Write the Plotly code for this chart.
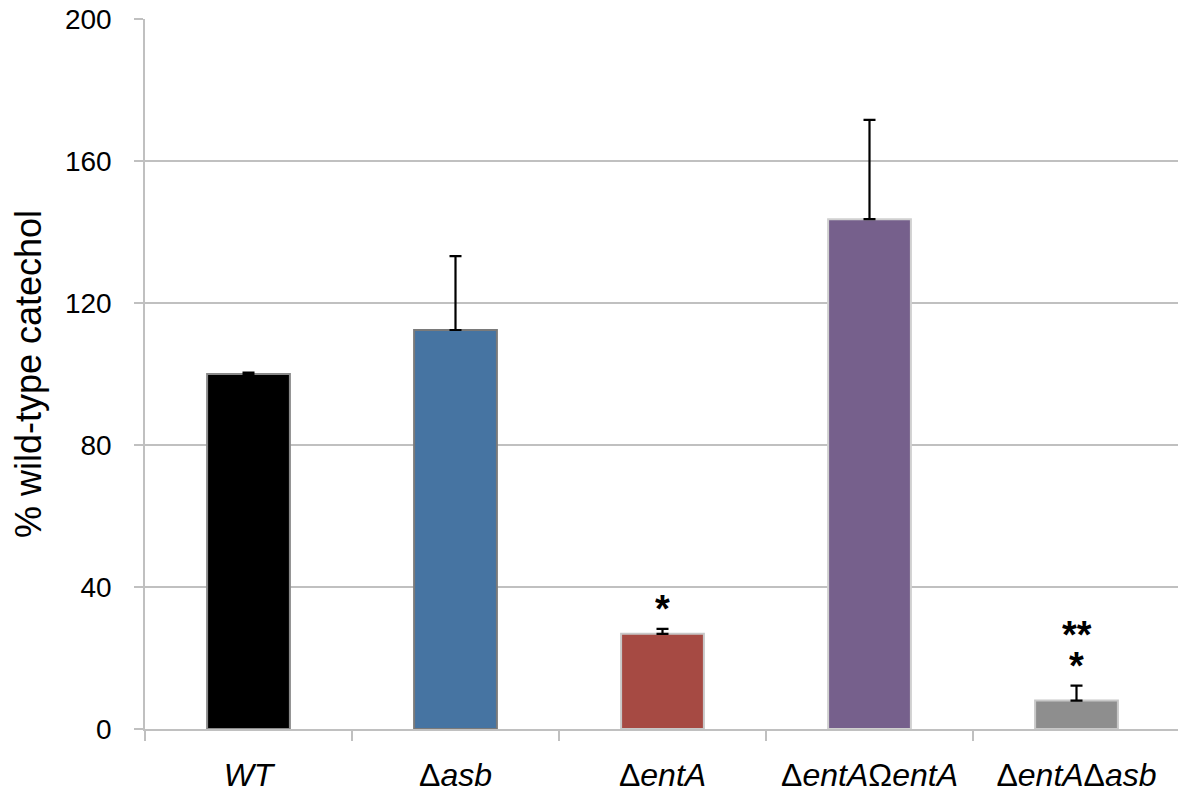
import plotly.graph_objects as go

strains = ["<i>WT</i>", "Δ<i>asb</i>", "Δ<i>entA</i>",
           "Δ<i>entA</i>Ω<i>entA</i>", "Δ<i>entA</i>Δ<i>asb</i>"]
catechol_pct = [100.0, 112.4, 26.8, 143.6, 8.0]
err_up = [0.4, 20.8, 1.4, 28.0, 4.2]
# significance marks, lower and upper row
sig_lower = ["", "", "*", "", "*"]
sig_upper = ["", "", "", "", "**"]

bar_colors = ["#000000", "#4674a2", "#a64a43", "#76608c", "#8e8e8e"]
edge_colors = ["#8a8a8a", "#7a7a7a", "#c8c8c8", "#d0d0d0", "#c8c8c8"]

FONT = "Arial, Liberation Sans, Helvetica, sans-serif"
GRID = "#c0c0c0"

fig = go.Figure()
fig.add_bar(x=strains, y=catechol_pct, width=0.4,
            marker=dict(color=bar_colors, line=dict(color=edge_colors, width=2)),
            error_y=dict(type="data", symmetric=False, array=err_up,
                         arrayminus=[0] * len(err_up),
                         color="black", thickness=2.2, width=6))

star_font = dict(size=38, family=FONT, color="black", weight="bold")
for s, v, e, lo, up in zip(strains, catechol_pct, err_up, sig_lower, sig_upper):
    if lo:
        fig.add_annotation(x=s, y=v + e, text=lo, showarrow=False, yanchor="middle",
                           height=24, valign="top", yshift=29, font=star_font)
    if up:
        fig.add_annotation(x=s, y=v + e, text=up, showarrow=False, yanchor="middle",
                           height=24, valign="top", yshift=60, font=star_font)

fig.update_layout(
    width=1186, height=800,
    margin=dict(l=137, r=14, t=11, b=79),
    plot_bgcolor="white", paper_bgcolor="white",
    showlegend=False,
    font=dict(family=FONT, color="black"),
    xaxis=dict(type="category", tickson="boundaries", ticks="outside", ticklen=10,
               tickcolor=GRID, tickwidth=1.5, showline=True, linecolor=GRID, linewidth=1.5,
               showgrid=False, tickfont=dict(size=32, family=FONT),
               ticklabelstandoff=17, automargin=False),
    yaxis=dict(range=[0, 200], tickvals=[0, 40, 80, 120, 160, 200],
               showgrid=True, gridcolor=GRID, gridwidth=1.5,
               showline=True, linecolor=GRID, linewidth=1.5,
               ticks="outside", ticklen=9, tickcolor=GRID, tickwidth=1.5,
               tickfont=dict(size=28, family=FONT), ticklabelstandoff=17,
               ticklabeloverflow="allow", automargin=False,
               zeroline=False,
               title=dict(text="% wild-type catechol", standoff=38,
                          font=dict(size=36, family=FONT))),
)

fig.write_html("out.html")
